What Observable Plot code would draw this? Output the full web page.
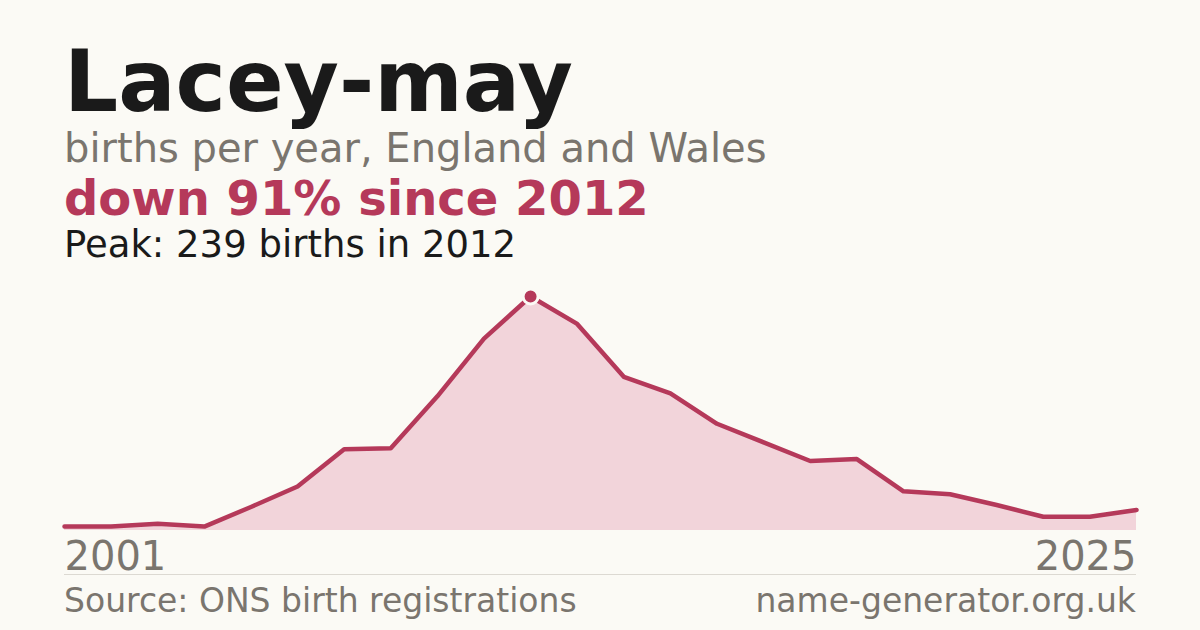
<!DOCTYPE html>
<html><head><meta charset="utf-8">
<script src="https://cdn.jsdelivr.net/npm/d3@7"></script>
<script src="https://cdn.jsdelivr.net/npm/@observablehq/plot@0.6"></script>
<style>
html,body{margin:0;padding:0;background:#fbfaf5;}
body{width:1200px;height:630px;position:relative;overflow:hidden;font-family:"DejaVu Sans",sans-serif;}
.t{position:absolute;left:64px;white-space:nowrap;line-height:1;}
#title{top:44px;font-size:85px;line-height:0.9;font-weight:bold;color:#1a1a1a;}
#sub{top:130px;font-size:40px;line-height:0.9;color:#7a756e;}
#hl{top:174px;font-size:48px;font-weight:bold;color:#b5395a;}
#peak{top:226px;font-size:37px;color:#1a1a1a;}
#chart{position:absolute;left:0;top:286px;}
#rule{position:absolute;left:64px;width:1072px;top:574px;height:1px;background:#dcd9d2;}
.f{position:absolute;top:584px;font-size:33px;color:#7a756e;white-space:nowrap;line-height:1;}
</style></head>
<body>
<div class="t" id="title">Lacey-may</div>
<div class="t" id="sub">births per year, England and Wales</div>
<div class="t" id="hl">down 91% since 2012</div>
<div class="t" id="peak">Peak: 239 births in 2012</div>
<div id="chart"></div>
<div id="rule"></div>
<div class="f" style="left:64px">Source: ONS birth registrations</div>
<div class="f" style="right:64px">name-generator.org.uk</div>
<script>
const years = [2001, 2003, 2004, 2005, 2006, 2007, 2008, 2009, 2010, 2011, 2012, 2013, 2014, 2015, 2016, 2017, 2018, 2019, 2020, 2021, 2022, 2023, 2024, 2025];
const births = [4, 4, 7, 4, 24, 45, 83, 84, 137, 196, 239, 211, 157, 140, 109, 90, 71, 73, 40, 37, 26, 14, 14, 21];
const tickLabels = ["2001", "2025"];

const data = years.map((y, i) => ({i, year: y, births: births[i]}));
const peakIdx = births.indexOf(d3.max(births));
const red = "#b5395a";

const chart = Plot.plot({
  width: 1200,
  height: 296,
  marginLeft: 64,
  marginRight: 64,
  marginTop: 10,
  marginBottom: 52,
  style: {background: "transparent", fontFamily: "DejaVu Sans, sans-serif"},
  x: {domain: [0, years.length - 1], axis: null},
  y: {domain: [0, d3.max(births)], axis: null},
  marks: [
    Plot.areaY(data, {x: "i", y: "births", fill: "#f2d4da"}),
    Plot.lineY(data, {x: "i", y: "births", stroke: red, strokeWidth: 4.5, strokeLinejoin: "round"}),
    Plot.dot([data[peakIdx]], {x: "i", y: "births", r: 7.5, fill: red, stroke: "#fbfaf5", strokeWidth: 3}),
    Plot.text([tickLabels[0]], {x: 0, y: 0, text: d => d, textAnchor: "start", lineAnchor: "top", dy: 11, fontSize: 40, fill: "#7a756e"}),
    Plot.text([tickLabels[1]], {x: years.length - 1, y: 0, text: d => d, textAnchor: "end", lineAnchor: "top", dy: 11, fontSize: 40, fill: "#7a756e"})
  ]
});
document.getElementById("chart").appendChild(chart);
</script>
</body></html>
